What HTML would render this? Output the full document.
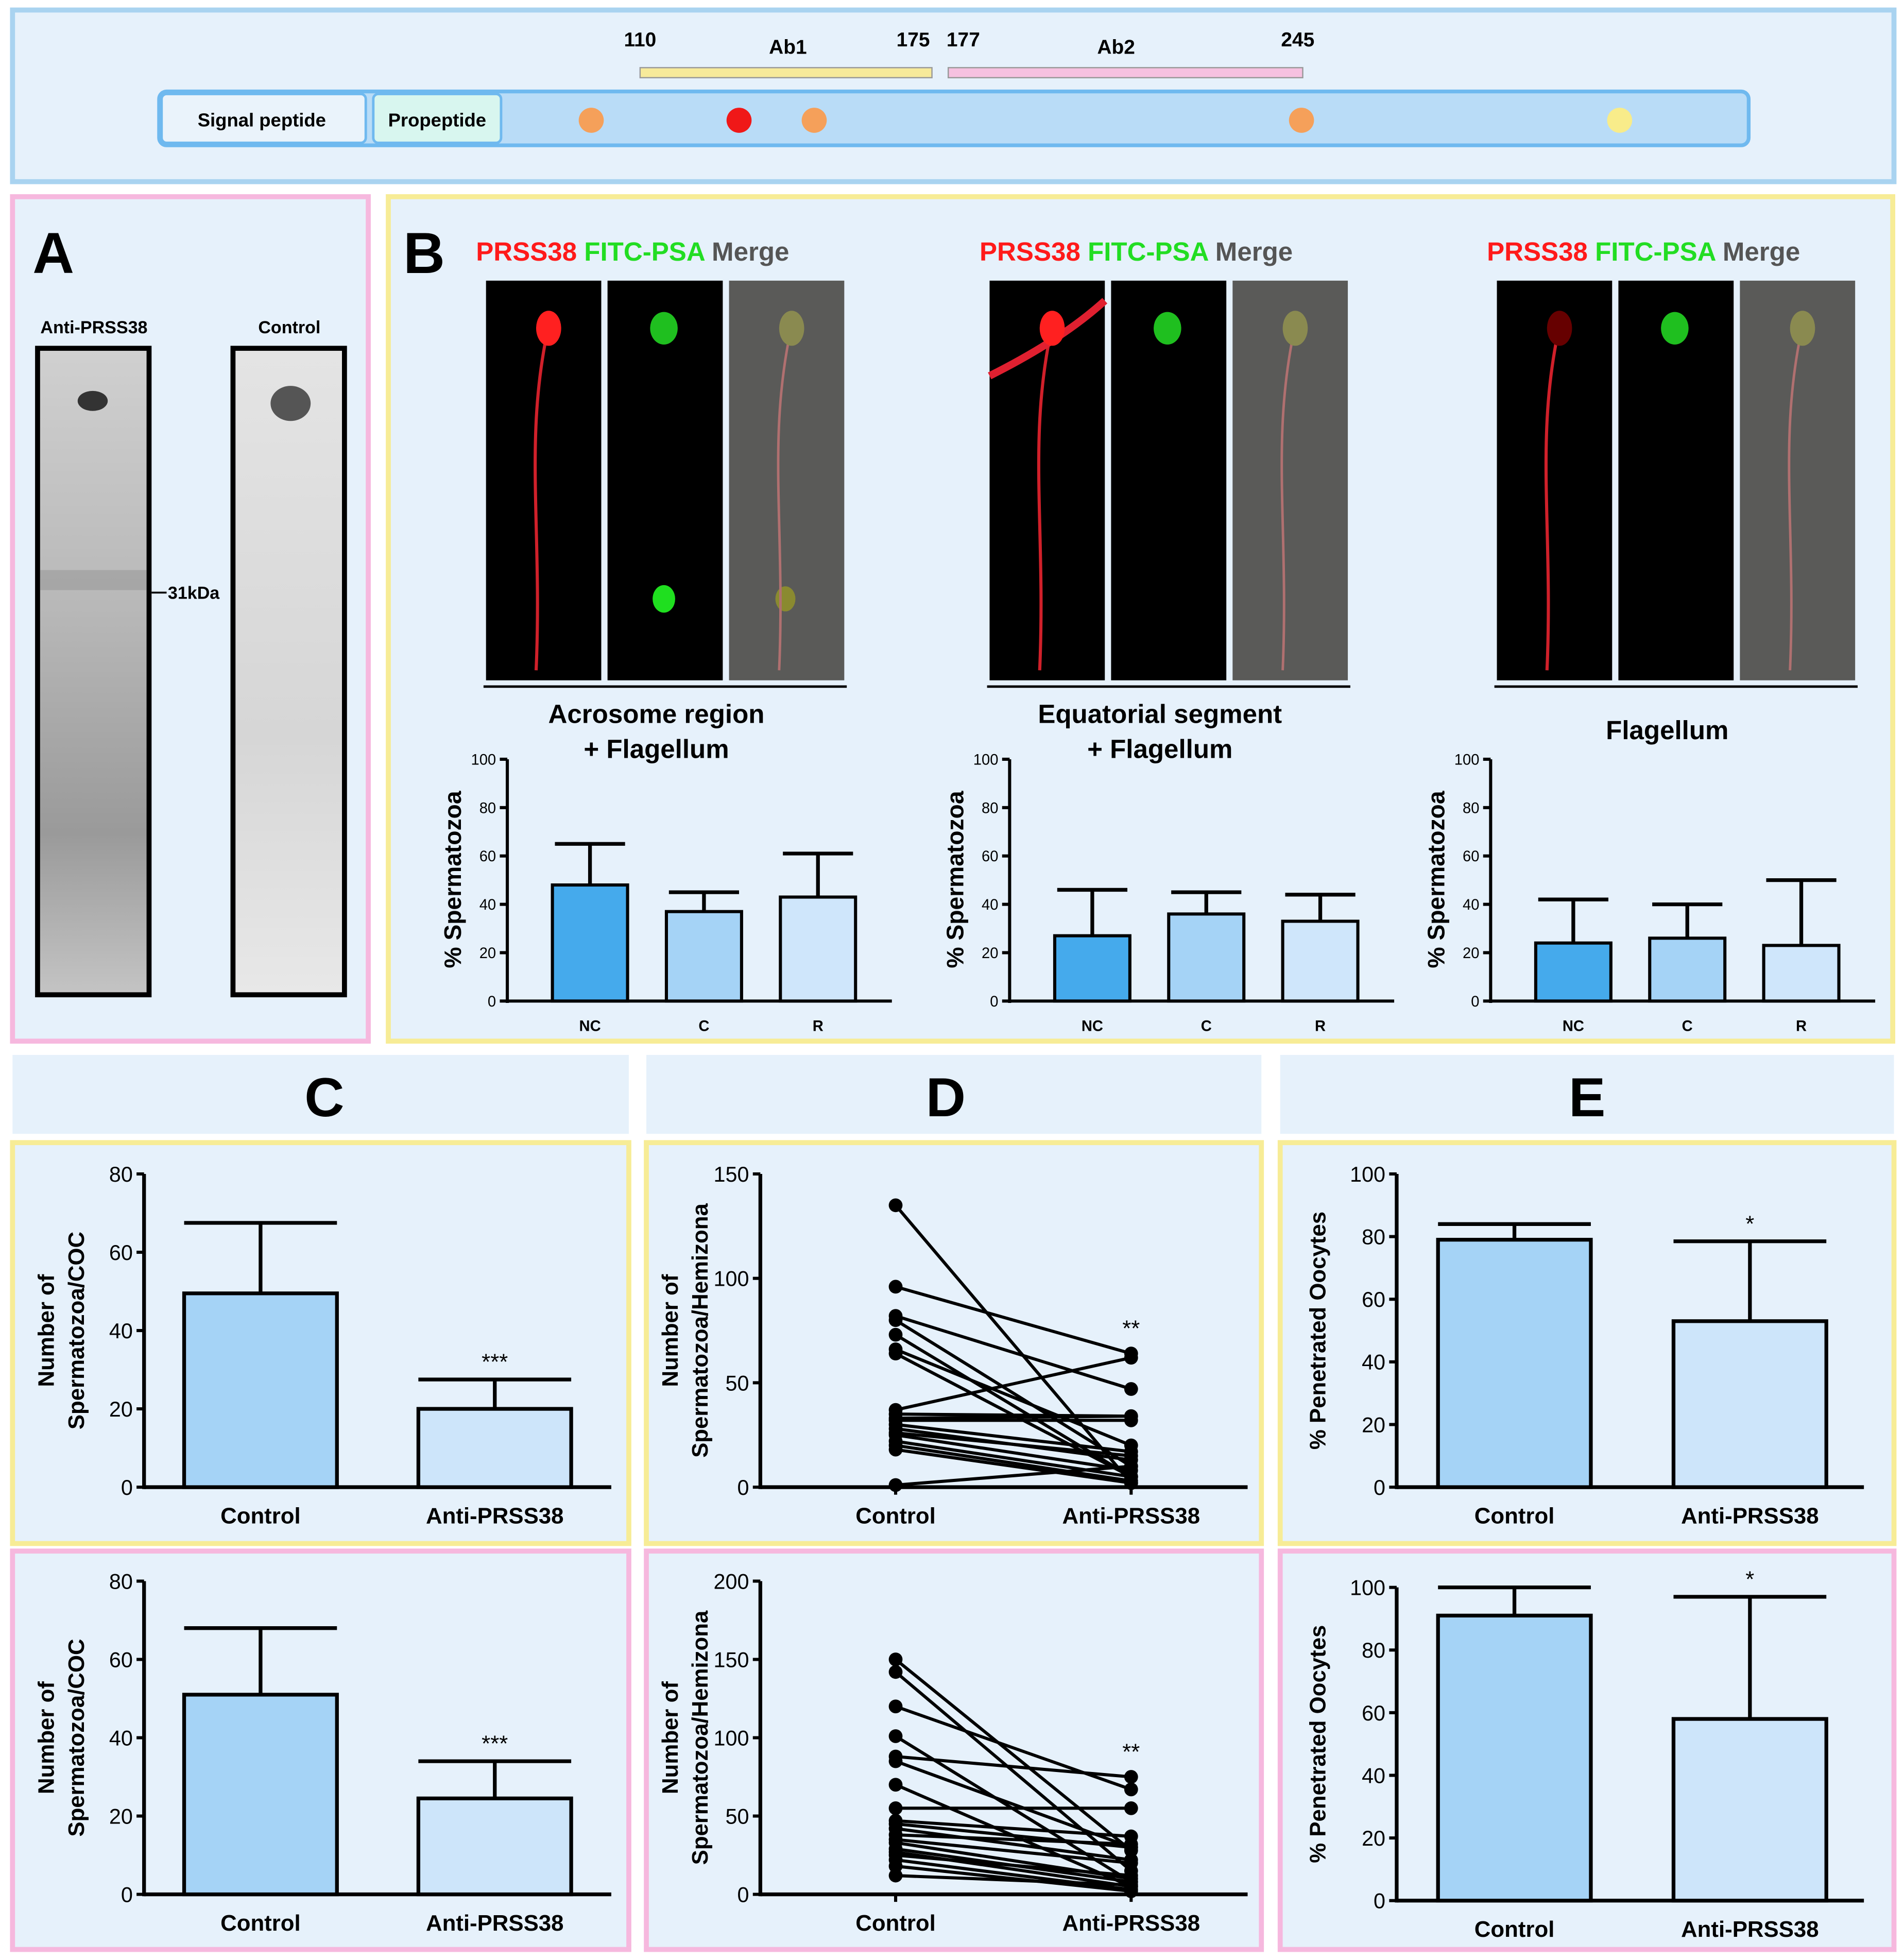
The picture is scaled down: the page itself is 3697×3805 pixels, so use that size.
<!DOCTYPE html>
<html><head><meta charset="utf-8"><style>
html,body{margin:0;padding:0;background:#fff;}
svg{display:block;font-family:"Liberation Sans",sans-serif;font-weight:bold;}
</style></head><body>
<svg id="fig" width="3697" height="3805" viewBox="0 0 1520 1564.4" xmlns="http://www.w3.org/2000/svg">
<defs>
<linearGradient id="blotA" x1="0" y1="0" x2="0" y2="1"><stop offset="0" stop-color="#d0d0d0"/><stop offset="0.4" stop-color="#b8b8b8"/><stop offset="0.75" stop-color="#9a9a9a"/><stop offset="1" stop-color="#c4c4c4"/></linearGradient>
<linearGradient id="blotC" x1="0" y1="0" x2="0" y2="1"><stop offset="0" stop-color="#e4e4e4"/><stop offset="0.6" stop-color="#d6d6d6"/><stop offset="1" stop-color="#e8e8e8"/></linearGradient>
</defs>
<g>
<rect x="10" y="8" width="1502" height="137" fill="#e6f1fb" stroke="#a9d3f0" stroke-width="4"/>
<rect x="127" y="73" width="1269" height="43" rx="6" fill="#b9dcf7" stroke="#6fb9ef" stroke-width="3"/>
<rect x="129" y="75" width="163" height="39" rx="4" fill="#eaf3fb" stroke="#6fb9ef" stroke-width="2"/>
<text x="209" y="101" font-size="15" text-anchor="middle">Signal peptide</text>
<rect x="298" y="75" width="102" height="39" rx="4" fill="#d8f6ef" stroke="#6fb9ef" stroke-width="2"/>
<text x="349" y="101" font-size="15" text-anchor="middle">Propeptide</text>
<circle cx="472" cy="96" r="10" fill="#f5a05a"/><circle cx="590" cy="96" r="10" fill="#f01818"/>
<circle cx="650" cy="96" r="10" fill="#f5a05a"/><circle cx="1039" cy="96" r="10" fill="#f5a05a"/>
<circle cx="1293" cy="96" r="10" fill="#f8ec8a"/>
<rect x="511" y="54" width="233" height="8" fill="#f7ea9a" stroke="#999" stroke-width="1"/>
<rect x="757" y="54" width="283" height="8" fill="#f6c1e0" stroke="#999" stroke-width="1"/>
<text x="511" y="37" font-size="16" text-anchor="middle">110</text>
<text x="629" y="43" font-size="16" text-anchor="middle">Ab1</text>
<text x="729" y="37" font-size="16" text-anchor="middle">175</text>
<text x="769" y="37" font-size="16" text-anchor="middle">177</text>
<text x="891" y="43" font-size="16" text-anchor="middle">Ab2</text>
<text x="1036" y="37" font-size="16" text-anchor="middle">245</text>
</g>
<g>
<rect x="10" y="157" width="284" height="674" fill="#e6f1fb" stroke="#f6b8de" stroke-width="4"/>
<text x="26" y="218" font-size="46">A</text>
<text x="75" y="266" font-size="14" text-anchor="middle">Anti-PRSS38</text>
<text x="231" y="266" font-size="14" text-anchor="middle">Control</text>
<rect x="30" y="278" width="89" height="516" fill="url(#blotA)" stroke="#000" stroke-width="4"/>
<ellipse cx="74" cy="320" rx="12" ry="8" fill="#333"/>
<rect x="32" y="455" width="85" height="16" fill="#999" opacity="0.6"/>
<rect x="186" y="278" width="89" height="516" fill="url(#blotC)" stroke="#000" stroke-width="4"/>
<ellipse cx="232" cy="322" rx="16" ry="14" fill="#555"/>
<line x1="121" y1="473" x2="133" y2="473" stroke="#000" stroke-width="1.5"/>
<text x="134" y="478" font-size="14">31kDa</text>
</g>
<g>
<rect x="310" y="157" width="1201" height="674" fill="#e6f1fb" stroke="#f7ec96" stroke-width="4"/>
<text x="322" y="218" font-size="46">B</text>
</g>
<g id="bgroups"></g>
<rect x="10" y="842" width="492" height="63" fill="#e6f1fb"/>
<rect x="516" y="842" width="491" height="63" fill="#e6f1fb"/>
<rect x="1022" y="842" width="490" height="63" fill="#e6f1fb"/>
<text x="259" y="891" font-size="44" text-anchor="middle">C</text>
<text x="755" y="891" font-size="44" text-anchor="middle">D</text>
<text x="1267" y="891" font-size="44" text-anchor="middle">E</text>
<g id="charts"></g>
</svg>
<script>
const bCategories = ["NC","C","R"];
const bTitles = [["Acrosome region","+ Flagellum"],["Equatorial segment","+ Flagellum"],["Flagellum"]];
const bMeans1 = [48,37,43]; const bErr1 = [65,45,61];
const bMeans2 = [27,36,33]; const bErr2 = [46,45,44];
const bMeans3 = [24,26,23]; const bErr3 = [42,40,50];
const bTicks = [0,20,40,60,80,100];
const ceCategories = ["Control","Anti-PRSS38"];
const cTopMeans = [49.5,20]; const cTopErr = [67.5,27.5];
const cBotMeans = [51,24.5]; const cBotErr = [68,34];
const cTicks = [0,20,40,60,80];
const eTopMeans = [79,53]; const eTopErr = [84,78.5];
const eBotMeans = [91,58]; const eBotErr = [100,97];
const eTicks = [0,20,40,60,80,100];
const dTopControl = [135,96,82,80,73,66,64,37,35,33,32,30,28,26,25,22,20,18,1];
const dTopAnti    = [2,64,47,10,5,20,5,62,34,34,32,17,13,15,8,5,3,2,10];
const dTopTicks = [0,50,100,150];
const dBotControl = [150,142,120,101,88,85,70,55,47,45,42,38,35,33,29,27,25,22,18,12];
const dBotAnti    = [28,15,67,8,75,30,5,55,37,30,22,32,20,10,8,5,12,3,2,6];
const dBotTicks = [0,50,100,150,200];

const NS="http://www.w3.org/2000/svg";
const root=document.getElementById('charts');
const bg=document.getElementById('bgroups');
function el(tag,attrs,parent,txt){const e=document.createElementNS(NS,tag);for(const k in attrs)e.setAttribute(k,attrs[k]);if(txt!==undefined)e.textContent=txt;(parent||root).appendChild(e);return e;}

function yAxis(g,x,y0,y1,max,ticks,fs,sw){
  const ys=v=>y0-(v/max)*(y0-y1);
  el('line',{x1:x,y1:y0+1.5,x2:x,y2:y1,stroke:'#000','stroke-width':sw},g);
  ticks.forEach(t=>{el('line',{x1:x-6,y1:ys(t),x2:x,y2:ys(t),stroke:'#000','stroke-width':2.5},g);
    el('text',{x:x-9,y:ys(t)+fs*0.36,'font-size':fs,'text-anchor':'end','font-weight':'normal'},g,t);});
  return ys;
}
function errBar(g,cx,ys,m,e,w){
  el('line',{x1:cx,y1:ys(m),x2:cx,y2:ys(e),stroke:'#000','stroke-width':3},g);
  el('line',{x1:cx-w,y1:ys(e),x2:cx+w,y2:ys(e),stroke:'#000','stroke-width':3},g);
}

const groupX=[388,790,1195];
const bMeansAll=[bMeans1,bMeans2,bMeans3], bErrAll=[bErr1,bErr2,bErr3];
const axisX=[405,806,1190];
const bColors=['#45aaec','#a5d3f6','#cfe6fb'];
groupX.forEach((gx,gi)=>{
  const g=el('g',{},bg);
  
  
  const ht=el('text',{x:gx-8,y:208,'font-size':21},g);
  el('tspan',{fill:'#ff1a1a'},ht,'PRSS38 '); el('tspan',{fill:'#22dd22'},ht,'FITC-PSA '); el('tspan',{fill:'#555'},ht,'Merge');
  ['#000','#000','#5a5a58'].forEach((c,i)=>{
    const r=el('rect',{x:gx+i*97,y:224,width:92,height:319,fill:c},g);
    
    
  });
  el('path',{d:`M${gx+40} 535 C ${gx+45} 420 ${gx+30} 350 ${gx+50} 260`,stroke:'#d0202a','stroke-width':2.5,fill:'none'},g);
  if(gi==1){el('path',{d:`M${gx} 300 C ${gx+40} 280 ${gx+70} 260 ${gx+92} 240`,stroke:'#e02030','stroke-width':6,fill:'none'},g);}
  el('ellipse',{cx:gx+50,cy:262,rx:10,ry:14,fill:gi==2?'#600':'#ff2020'},g);
  el('ellipse',{cx:gx+97+45,cy:262,rx:11,ry:13,fill:'#1fbf1f'},g);
  if(gi==0){el('ellipse',{cx:gx+97+45,cy:478,rx:9,ry:11,fill:'#1fdf1f'},g);el('ellipse',{cx:gx+194+45,cy:478,rx:8,ry:10,fill:'#8a8a30'},g);}
  el('path',{d:`M${gx+194+40} 535 C ${gx+194+45} 420 ${gx+194+30} 350 ${gx+194+50} 260`,stroke:'#b07070','stroke-width':2,fill:'none'},g);
  el('ellipse',{cx:gx+194+50,cy:262,rx:10,ry:14,fill:'#8a8a50'},g);
  el('line',{x1:gx-2,y1:548,x2:gx+288,y2:548,stroke:'#000','stroke-width':2},g);
  const tl=bTitles[gi];
  tl.forEach((s,i)=>el('text',{x:gx+136,y:(tl.length==1?590:577+i*28),'font-size':21,'text-anchor':'middle'},g,s));
  const ax=axisX[gi];
  const ys=yAxis(g,ax,799,606,100,bTicks,12,2.5);
  el('line',{x1:ax,y1:799,x2:ax+307,y2:799,stroke:'#000','stroke-width':2.5},g);
  el('text',{transform:`translate(${ax-37},702) rotate(-90)`,'font-size':19,'text-anchor':'middle'},g,'% Spermatozoa');
  bCategories.forEach((c,i)=>{
    const bx=ax+36+i*91, m=bMeansAll[gi][i], e=bErrAll[gi][i];
    errBar(g,bx+30,ys,m,e,28);
    const b=el('rect',{x:bx,y:ys(m),width:60,height:799-ys(m),fill:bColors[i],stroke:'#000','stroke-width':2.5},g);
    
    
    el('text',{x:bx+30,y:823,'font-size':12,'text-anchor':'middle'},g,c);
  });
});

function panelBox(x,y,w,h,stroke){el('rect',{x:x,y:y,width:w,height:h,fill:'#e6f1fb',stroke:stroke,'stroke-width':4});}
panelBox(10,912,492,320,'#f7ec96');panelBox(10,1238,492,318,'#f6b8de');
panelBox(516,912,491,320,'#f7ec96');panelBox(516,1238,491,318,'#f6b8de');
panelBox(1022,912,490,320,'#f7ec96');panelBox(1022,1238,490,318,'#f6b8de');

function barChart(name,ax,y0,y1,max,ticks,means,errs,star,ylab,bars,lx){
  const g=el('g',{});
  
  
  const ys=yAxis(g,ax,y0,y1,max,ticks,17,3);
  el('line',{x1:ax,y1:y0,x2:ax+373,y2:y0,stroke:'#000','stroke-width':3},g);
  ylab.forEach((s,i)=>el('text',{transform:`translate(${lx+i*24},${(y0+y1)/2}) rotate(-90)`,'font-size':18,'text-anchor':'middle'},g,s));
  const fills=['#a5d3f6','#cde5fa'];
  ceCategories.forEach((c,i)=>{
    const bx=bars[i];
    errBar(g,bx+61,ys,means[i],errs[i],61);
    const b=el('rect',{x:bx,y:ys(means[i]),width:122,height:y0-ys(means[i]),fill:fills[i],stroke:'#000','stroke-width':3},g);
    
    
    el('text',{x:bx+61,y:y0+29,'font-size':18,'text-anchor':'middle'},g,c);
  });
  el('text',{x:bars[1]+61,y:ys(errs[1])-8,'font-size':18,'text-anchor':'middle','font-weight':'normal'},g,star);
}
barChart('chart-c-top',115,1187,937,80,cTicks,cTopMeans,cTopErr,'***',['Number of','Spermatozoa/COC'],[147,334],43);
barChart('chart-c-bottom',115,1512,1262,80,cTicks,cBotMeans,cBotErr,'***',['Number of','Spermatozoa/COC'],[147,334],43);
barChart('chart-e-top',1115,1187,937,100,eTicks,eTopMeans,eTopErr,'*',['% Penetrated Oocytes'],[1148,1336],1058);
barChart('chart-e-bottom',1115,1517,1267,100,eTicks,eBotMeans,eBotErr,'*',['% Penetrated Oocytes'],[1148,1336],1058);

function pairChart(name,y0,y1,max,ticks,ctrl,anti){
  const g=el('g',{});
  
  
  const ax=607, xc=715, xa=903;
  const ys=yAxis(g,ax,y0,y1,max,ticks,17,3);
  el('line',{x1:ax,y1:y0,x2:996,y2:y0,stroke:'#000','stroke-width':3},g);
  [xc,xa].forEach(x=>el('line',{x1:x,y1:y0,x2:x,y2:y0+6,stroke:'#000','stroke-width':2.5},g));
  ['Number of','Spermatozoa/Hemizona'].forEach((s,i)=>el('text',{transform:`translate(${541+i*24},${(y0+y1)/2}) rotate(-90)`,'font-size':18,'text-anchor':'middle'},g,s));
  ctrl.forEach((v,i)=>{
    const l=el('line',{x1:xc,y1:ys(v),x2:xa,y2:ys(anti[i]),stroke:'#000','stroke-width':2.5},g);
    
    
    el('circle',{cx:xc,cy:ys(v),r:5.5,fill:'#000'},g);
    el('circle',{cx:xa,cy:ys(anti[i]),r:5.5,fill:'#000'},g);
  });
  const mx=Math.max(...anti);
  el('text',{x:xa,y:ys(mx)-14,'font-size':18,'text-anchor':'middle','font-weight':'normal'},g,'**');
  el('text',{x:xc,y:y0+29,'font-size':18,'text-anchor':'middle'},g,'Control');
  el('text',{x:xa,y:y0+29,'font-size':18,'text-anchor':'middle'},g,'Anti-PRSS38');
}
pairChart('chart-d-top',1187,937,150,dTopTicks,dTopControl,dTopAnti);
pairChart('chart-d-bottom',1512,1262,200,dBotTicks,dBotControl,dBotAnti);
</script>
</body></html>
